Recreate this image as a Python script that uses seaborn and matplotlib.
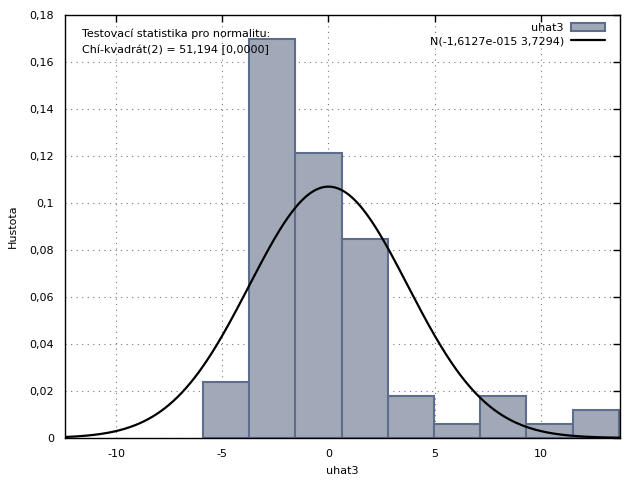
import numpy as np
import pandas as pd
import matplotlib
matplotlib.use("Agg")
import matplotlib.pyplot as plt
import seaborn as sns
from matplotlib.lines import Line2D
from matplotlib.patches import Patch

# Data
bin_edges = [-5.906, -3.741, -1.576, 0.635, 2.80, 4.965, 7.13, 9.29, 11.50, 13.67]
densities = [0.0238, 0.1698, 0.1213, 0.0847, 0.0179, 0.0060, 0.0179, 0.0060, 0.0119]
norm_mean = -1.6127e-15
norm_sd = 3.7294
x_ticks = [-10, -5, 0, 5, 10]
y_ticks = [0, 0.02, 0.04, 0.06, 0.08, 0.1, 0.12, 0.14, 0.16, 0.18]
y_tick_labels = ["0", "0,02", "0,04", "0,06", "0,08", "0,1", "0,12", "0,14", "0,16", "0,18"]
xlim = (-12.4, 13.72)

sns.set_style("white")
plt.rcParams['font.family'] = ['DejaVu Sans']
plt.rcParams['text.color'] = 'black'
plt.rcParams['axes.labelcolor'] = 'black'
plt.rcParams['xtick.color'] = 'black'
plt.rcParams['ytick.color'] = 'black'

fig = plt.figure(figsize=(6.4, 4.8), dpi=100)
ax = fig.add_axes([65/640, 42/480, 555/640, 423/480])

centers = [(bin_edges[i] + bin_edges[i+1]) / 2 for i in range(len(densities))]
df = pd.DataFrame({"x": centers, "w": densities})
sns.histplot(data=df, x="x", weights="w", bins=bin_edges, stat="count",
             color="#a1a9b8", alpha=1, edgecolor="#5f6d8c", linewidth=1.5, ax=ax, zorder=2)

xs = np.linspace(xlim[0], xlim[1], 400)
pdf = np.exp(-0.5 * ((xs - norm_mean) / norm_sd) ** 2) / (norm_sd * np.sqrt(2 * np.pi))
sns.lineplot(x=xs, y=pdf, color="black", linewidth=1.6, ax=ax, zorder=3)

ax.set_xlim(*xlim)
ax.set_ylim(0, 0.18)
ax.set_xticks(x_ticks)
ax.set_xticklabels([str(t) for t in x_ticks])
ax.set_yticks(y_ticks)
ax.set_yticklabels(y_tick_labels)
ax.grid(True, linestyle=(0, (1, 4)), color="#777777", linewidth=0.8, zorder=0)
ax.set_axisbelow(True)
ax.tick_params(direction="in", length=5, width=1, top=True, right=True,
               labelsize=8, pad=8, color="black", labelcolor="black")
for s in ax.spines.values():
    s.set_color("black")
    s.set_linewidth(1)

ax.set_xlabel("uhat3", fontsize=8, labelpad=5, color="black")
ax.set_ylabel("Hustota", fontsize=8, labelpad=8, color="black")

ax.text(0.03, 0.967, "Testovací statistika pro normalitu:\nChí-kvadrát(2) = 51,194 [0,0000]",
        transform=ax.transAxes, fontsize=8, va="top", ha="left", linespacing=1.6,
        color="black", zorder=5)

handles = [Patch(facecolor="#a1a9b8", edgecolor="#5f6d8c", linewidth=1.5),
           Line2D([0], [0], color="black", linewidth=1.6)]
labels = ["uhat3", "N(-1,6127e-015 3,7294)"]
leg = ax.legend(handles, labels, loc="upper right", bbox_to_anchor=(0.987, 1.0),
                markerfirst=False, frameon=False,
                fontsize=8, handlelength=3.1, handleheight=0.7, borderaxespad=0.3,
                labelspacing=0.3, handletextpad=0.6)
for t in leg.get_texts():
    t.set_color("black")

fig.savefig("out.png", dpi=100)
